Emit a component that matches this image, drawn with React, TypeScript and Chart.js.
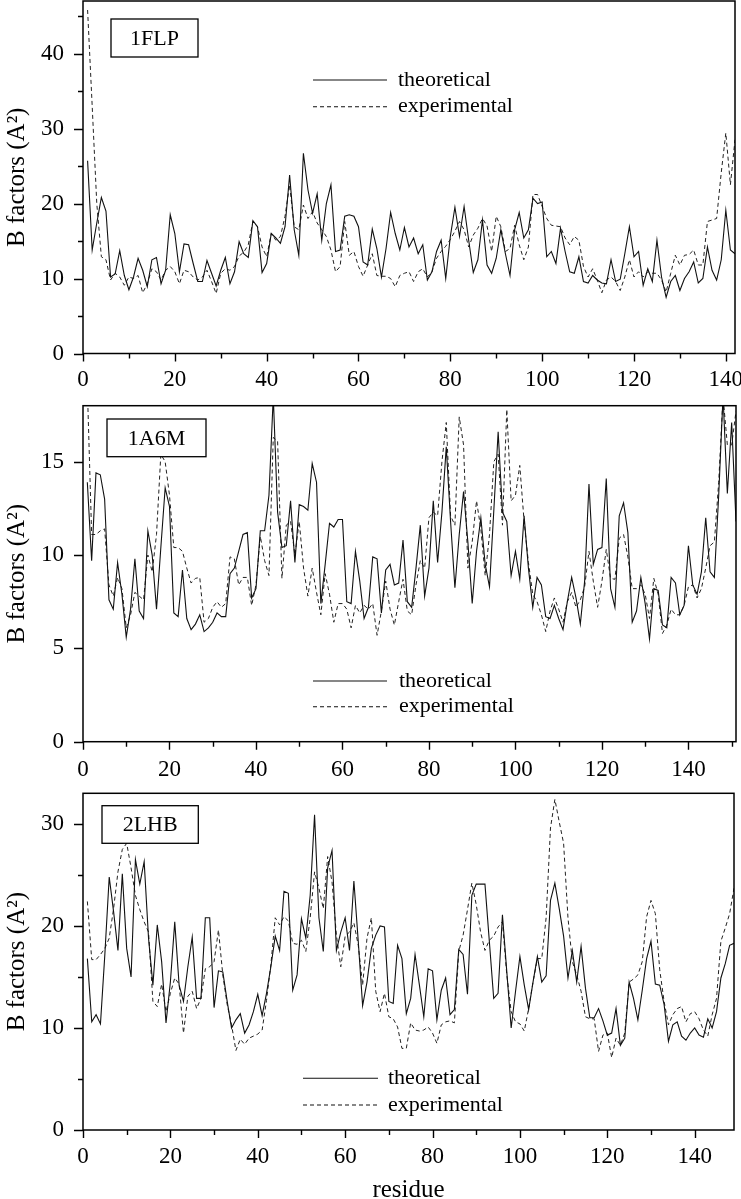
import React, { useEffect, useRef } from 'react';
import { Chart, registerables } from 'chart.js';

Chart.register(...registerables);

const FONT = '"Liberation Serif", "Times New Roman", Times, serif';

// ---------- 1FLP ----------
const flpTheoretical = [
  25.7, 13.8, 17.4, 20.8, 19, 10.2, 10.6, 13.7, 10.4, 8.5,
  10.2, 12.7, 11.1, 8.9, 12.5, 12.8, 9.3, 11.1, 18.5, 16,
  10.9, 14.6, 14.5, 12, 9.6, 9.6, 12.4, 10.7, 9, 11.1,
  12.8, 9.3, 10.9, 14.9, 13.3, 12.8, 17.7, 16.9, 10.8, 12,
  16, 15.4, 14.7, 16.9, 23.8, 16.5, 13.1, 26.7, 21.8, 18.7,
  21.3, 15.1, 20, 22.5, 13.6, 13.8, 18.3, 18.5, 18.3, 16.9,
  12.2, 11.8, 16.6, 14, 10.2, 14, 18.8, 16, 13.8, 16.8,
  14.2, 15.4, 13.3, 14.5, 9.8, 10.9, 13.6, 15.1, 10, 15.6,
  19.5, 15.6, 19.6, 15.1, 10.8, 12.5, 17.8, 11.8, 10.7, 12.7,
  16.5, 13.3, 10.4, 16.5, 18.8, 15.4, 16.5, 20.7, 20, 20.2,
  12.9, 13.6, 12, 16.7, 13.6, 10.9, 10.7, 12.9, 9.6, 9.4,
  10.4, 9.8, 9.4, 9.3, 12.5, 9.6, 9.9, 13.3, 16.9, 12.9,
  13.6, 9.1, 11.3, 9.6, 15.1, 10.2, 7.5, 9.6, 10.4, 8.4,
  10, 10.9, 12.2, 9.4, 10, 14.2, 11.1, 9.8, 12.5, 19.1,
  13.8, 13.3,
];
const flpExperimental = [
  45.8, 33, 20, 12.9, 12.5, 9.8, 10.7, 10.2, 9.1, 10.2,
  10, 10.4, 8.1, 9.3, 11.3, 10.9, 9.8, 11.1, 11.6, 10.9,
  9.3, 11.1, 10.9, 10.2, 9.8, 10.2, 11.1, 9.6, 8, 10.7,
  11.3, 11.1, 11.6, 13, 13.5, 14.5, 17.6, 16.9, 14.2, 12.9,
  16, 15.1, 15.6, 18.3, 22.5, 16.9, 16.5, 19.8, 18, 18.9,
  17.4, 16.5, 15.6, 13.8, 10.9, 11.6, 17.6, 13.1, 13.6, 11.6,
  10.3, 11.8, 13.3, 10.4, 10.3, 10.3, 10, 8.9, 10.4, 10.7,
  10.9, 9.6, 10.9, 11.3, 10.2, 10.9, 12.7, 13.6, 14.3, 15.2,
  16.3, 17.6, 16.5, 14.2, 15.8, 16.7, 18, 17, 13.6, 18.3,
  16.9, 13.6, 14, 17.1, 14.5, 12.5, 14.2, 21.2, 21.2, 19.6,
  18, 17.1, 17, 16.9, 15.4, 14.5, 15.6, 15.1, 11.6, 10.2,
  11.3, 9.8, 8.1, 9.8, 10.2, 9.6, 8.4, 10.2, 12.5, 10.2,
  10.9, 10.2, 10.9, 10.7, 10.7, 9.8, 8.2, 10.7, 13.1, 11.8,
  13.1, 13.2, 13.8, 11.8, 11.8, 17.6, 17.8, 18, 24.1, 29.4,
  22.5, 28.5,
];

// ---------- 1A6M ----------
const a6mTheoretical = [
  13.9, 9.7, 14.4, 14.3, 13, 7.6, 7.1, 9.6, 7.9, 5.6,
  7.1, 9.8, 7, 6.6, 11.3, 10, 7.1, 10.4, 13.6, 12.6,
  6.9, 6.7, 9.2, 6.6, 6, 6.3, 6.8, 5.9, 6.1, 6.4,
  6.9, 6.7, 6.7, 9, 9.3, 10.2, 11.1, 11.2, 7.7, 8.2,
  11.3, 11.3, 13.2, 18.5, 12.3, 10.4, 10.5, 12.9, 9.6, 12.7,
  12.6, 12.4, 14.9, 13.9, 7.4, 9.5, 11.7, 11.5, 11.9, 11.9,
  7.5, 7.4, 10.2, 8.6, 6.6, 7.2, 9.9, 9.8, 6.9, 9.2,
  9.5, 8.4, 8.5, 10.8, 7.5, 7.2, 9.3, 11.6, 7.8, 9.3,
  12.9, 9.6, 12.3, 15.8, 11.8, 8.25, 11.1, 13.4, 10.7, 7.4,
  10.2, 12, 9.5, 8.3, 12.4, 16.6, 12.3, 11.8, 8.9, 10.2,
  8.7, 12.1, 9.3, 7.2, 8.8, 8.4, 6.7, 6.6, 7.3, 6.6,
  6, 7.5, 8.8, 7.7, 6.3, 8.6, 13.8, 9.5, 10.3, 10.4,
  14.1, 8.2, 7.2, 12.1, 12.8, 11.2, 6.4, 7, 8.8, 7.4,
  5.5, 8.2, 8.1, 6.25, 6.1, 8.8, 8.5, 6.8, 7.3, 10.5,
  8.4, 7.9, 9.1, 12, 9.1, 8.8, 13.2, 18.5, 13.3, 17.1,
  11.8,
];
const a6mExperimental = [
  19, 11.1, 11.1, 11.3, 11.4, 8.4, 7.8, 8.8, 8.2, 6.1,
  6.8, 8, 7.8, 7.6, 10, 9.1, 11.1, 15.4, 15, 13.2,
  10.4, 10.4, 10.2, 9.3, 8.5, 8.75, 8.8, 6.4, 6.6, 7.2,
  7.5, 7.2, 7.4, 9.9, 9.8, 8.4, 8.8, 8.8, 7.3, 8.4,
  11, 9.7, 8.9, 16.3, 16.1, 8.75, 11.6, 11.8, 10, 11.8,
  9.3, 7.8, 9.3, 8, 6.8, 9, 7.9, 6.4, 7.4, 7.4,
  7.1, 6.1, 7.3, 6.9, 7.3, 7.1, 7.4, 5.7, 7, 8.6,
  7.1, 6.25, 7.5, 8.7, 7, 6.8, 8.4, 9.7, 9.3, 12,
  12.3, 12.1, 15, 17.1, 12.1, 11.6, 17.4, 15.9, 9.3, 10.7,
  12.9, 11.4, 8.9, 11.1, 15, 15.4, 11.6, 17.8, 12.9, 13.2,
  14.8, 11.8, 9.6, 7.9, 7.5, 6.8, 5.9, 7, 7.7, 7.1,
  6.4, 7.5, 8, 7.2, 7.6, 8.3, 10.2, 8.6, 7.2, 8.6,
  10.3, 8.75, 8.7, 10.9, 11.1, 9.9, 8.2, 8.2, 8.4, 7.9,
  6.6, 8.75, 7.9, 5.8, 6.25, 7.1, 6.8, 6.8, 7.3, 8.3,
  8.4, 7.7, 8.2, 9.3, 10.5, 10.7, 13.9, 18.5, 15.9, 15.9,
  17.7,
];

// ---------- 2LHB ----------
const lhbTheoretical = [
  16.8, 10.6, 11.3, 10.4, 17.2, 24.8, 21.4, 17.6, 25.1, 17.8,
  15, 26.5, 24.1, 26.3, 18.8, 14.2, 20.1, 16.5, 10.5, 14.5,
  20.4, 14.2, 12.6, 16, 18.9, 12.9, 12.9, 20.8, 20.8, 12,
  15.6, 15.5, 12.6, 10, 10.8, 11.4, 9.5, 10.3, 11.6, 13.3,
  11.2, 13.4, 16, 19, 17.6, 23.4, 23.2, 13.7, 15.2, 20.7,
  18.8, 23, 30.9, 20.8, 17.5, 25.7, 27.4, 17.6, 19.4, 20.8,
  17.6, 24.4, 18.5, 12.2, 14.5, 17.8, 19.1, 20, 19.9, 12.6,
  12.4, 18.1, 16.8, 11.4, 12.9, 17.2, 14.2, 11.1, 15.8, 15.6,
  10.8, 13.7, 14.9, 11.3, 11.8, 17.7, 17.2, 13.3, 23, 24.1,
  24.1, 24.1, 18.5, 12.9, 13.4, 21.1, 15.5, 10, 13.6, 17,
  14.2, 11.8, 14.5, 17, 14.5, 15.1, 22.5, 24.2, 21.7, 19,
  14.9, 17.6, 14.5, 18, 13.9, 11, 11, 11.9, 10.7, 9.3,
  9.5, 11.9, 8.3, 9, 14.5, 12.9, 10.8, 13.7, 16.8, 18.5,
  14.3, 14.2, 12.3, 8.7, 10.3, 10.6, 9.2, 8.8, 9.5, 10,
  9.3, 9.1, 10.9, 10, 11.6, 14.9, 16.3, 18.1, 18.3,
];
const lhbExperimental = [
  22.4, 16.7, 16.7, 17.2, 17.8, 18.8, 21.7, 25.3, 27.5, 28.1,
  25.7, 23, 21.6, 20.4, 19.4, 12.6, 12.1, 14.3, 11.6, 13.4,
  14.9, 14.3, 9.5, 13.1, 13.6, 11.9, 12.9, 15.8, 16, 16.5,
  19.6, 15.2, 12.3, 10.3, 7.8, 8.9, 8.4, 9, 9.2, 9.4,
  9.8, 12.7, 16.2, 20.8, 20.1, 20.9, 20.5, 18.3, 18.2, 18.6,
  17.5, 20.8, 25.3, 23.7, 21.7, 26.8, 24.3, 19.1, 16, 19,
  19.4, 20.3, 18.1, 14.2, 18.8, 20.8, 13.6, 11.6, 13.4, 11.1,
  10.9, 10.1, 8, 8, 10.5, 9.8, 9.7, 9.8, 10.1, 9.5,
  8.5, 10.3, 10.6, 10.7, 10.5, 17.5, 19.1, 21.6, 24.2, 22.1,
  19.4, 17.6, 18.6, 19, 19.9, 20.4, 15.2, 11.6, 10.6, 10.4,
  9.7, 11.9, 14.5, 16.8, 16.8, 20.8, 29.6, 32.4, 30.2, 28.1,
  20.8, 16.5, 15.2, 13.6, 11.1, 10.9, 10.9, 7.7, 9.3, 9.5,
  7.1, 9, 8.3, 9.5, 14.5, 14.8, 15.2, 16.5, 20.9, 22.5,
  21.2, 15.7, 12.6, 10.3, 11.3, 11.9, 12.1, 10.6, 11.4, 11.6,
  10.9, 9.8, 9.2, 11.3, 12.9, 18.5, 19.8, 21.2, 23.7,
];

const seriesLabels = ['theoretical', 'experimental'];
const yTitle = 'B factors (A\u00B2)';
const xTitle = 'residue';

type PanelCfg = {
  name: string;
  top: number;
  height: number;
  areaTop: number;
  areaBottom: number;
  areaRight: number;
  xMax: number;
  yMax: number;
  yStep: number;
  yMinor: number;
  theo: number[];
  exp: number[];
  legend: { x1: number; x2: number; y1: number; y2: number; tx: number };
  box: { x1: number; y1: number; x2: number; y2: number };
  showXTitle: boolean;
  xLabelPad: number;
};

const panels: PanelCfg[] = [
  {
    name: '1FLP', top: 0, height: 395, areaTop: 1, areaBottom: 353.5, areaRight: 735,
    xMax: 142, yMax: 47, yStep: 10, yMinor: 5,
    theo: flpTheoretical, exp: flpExperimental,
    legend: { x1: 313, x2: 387, y1: 80, y2: 106.7, tx: 398 },
    box: { x1: 111, y1: 19, x2: 198, y2: 57 },
    showXTitle: false, xLabelPad: 13,
  },
  {
    name: '1A6M', top: 395, height: 390, areaTop: 10.7, areaBottom: 346.7, areaRight: 736,
    xMax: 151, yMax: 18, yStep: 5, yMinor: 5,
    theo: a6mTheoretical, exp: a6mExperimental,
    legend: { x1: 313, x2: 387, y1: 286, y2: 311.7, tx: 399 },
    box: { x1: 107, y1: 24, x2: 206, y2: 61.7 },
    showXTitle: false, xLabelPad: 14,
  },
  {
    name: '2LHB', top: 785, height: 414, areaTop: 8.3, areaBottom: 345, areaRight: 734,
    xMax: 149, yMax: 33, yStep: 10, yMinor: 5,
    theo: lhbTheoretical, exp: lhbExperimental,
    legend: { x1: 303, x2: 378, y1: 293.3, y2: 320, tx: 388 },
    box: { x1: 102, y1: 20.7, x2: 198.3, y2: 58.3 },
    showXTitle: true, xLabelPad: 13.5,
  },
];

const WIDTH = 741;
const AXIS_LEFT = 83;

function toPoints(values: number[]) {
  return values.map((v, i) => ({ x: i + 1, y: v }));
}

function Panel({ cfg }: { cfg: PanelCfg }) {
  const ref = useRef<HTMLCanvasElement | null>(null);

  useEffect(() => {
    if (!ref.current) return;

    const decor = {
      id: 'decor' + cfg.name,
      afterDraw(chart: any) {
        const ctx = chart.ctx as CanvasRenderingContext2D;
        const a = chart.chartArea;
        const xs = chart.scales.x;
        const ys = chart.scales.y;
        ctx.save();
        ctx.strokeStyle = '#000';
        ctx.lineWidth = 1.5;
        ctx.strokeRect(a.left, a.top, a.right - a.left, a.bottom - a.top);

        ctx.lineWidth = 1.4;
        ctx.beginPath();
        for (let v = 0; v <= cfg.xMax + 1e-9; v += 10) {
          const px = Math.round(xs.getPixelForValue(v)) + 0.5;
          const len = v % 20 === 0 ? 8 : 5;
          ctx.moveTo(px, a.bottom);
          ctx.lineTo(px, a.bottom + len);
        }
        for (let v = 0; v <= cfg.yMax + 1e-9; v += cfg.yMinor) {
          const py = Math.round(ys.getPixelForValue(v)) + 0.5;
          const r = v / cfg.yStep;
          const major = Math.abs(r - Math.round(r)) < 1e-6;
          const len = major ? 9 : 5;
          ctx.moveTo(a.left, py);
          ctx.lineTo(a.left - len, py);
        }
        ctx.stroke();

        // legend
        const L = cfg.legend;
        const ds = chart.data.datasets;
        ctx.lineWidth = 1.1;
        ctx.strokeStyle = '#111';
        ctx.setLineDash([]);
        ctx.beginPath();
        ctx.moveTo(L.x1, L.y1);
        ctx.lineTo(L.x2, L.y1);
        ctx.stroke();
        ctx.setLineDash(ds[1].borderDash || [4, 3]);
        ctx.beginPath();
        ctx.moveTo(L.x1, L.y2);
        ctx.lineTo(L.x2, L.y2);
        ctx.stroke();
        ctx.setLineDash([]);
        ctx.fillStyle = '#000';
        ctx.font = `22px ${FONT}`;
        ctx.textAlign = 'left';
        ctx.textBaseline = 'middle';
        ctx.fillText(ds[0].label, L.tx, L.y1);
        ctx.fillText(ds[1].label, L.tx, L.y2);

        // name box
        const B = cfg.box;
        ctx.fillStyle = '#fff';
        ctx.fillRect(B.x1, B.y1, B.x2 - B.x1, B.y2 - B.y1);
        ctx.lineWidth = 1.3;
        ctx.strokeStyle = '#000';
        ctx.strokeRect(B.x1, B.y1, B.x2 - B.x1, B.y2 - B.y1);
        ctx.fillStyle = '#000';
        ctx.textAlign = 'center';
        ctx.textBaseline = 'middle';
        ctx.fillText(cfg.name, (B.x1 + B.x2) / 2, (B.y1 + B.y2) / 2 + 1);
        ctx.restore();
      },
    };

    const xAxisHeight = cfg.height - cfg.areaBottom;

    const chart = new Chart(ref.current, {
      type: 'line',
      data: {
        datasets: [
          {
            label: seriesLabels[0],
            data: toPoints(cfg.theo),
            borderColor: '#111',
            borderWidth: 1.1,
            pointRadius: 0,
            tension: 0,
            fill: false,
          },
          {
            label: seriesLabels[1],
            data: toPoints(cfg.exp),
            borderColor: '#222',
            borderWidth: 1,
            borderDash: [4, 3],
            pointRadius: 0,
            tension: 0,
            fill: false,
          },
        ],
      },
      options: {
        responsive: false,
        animation: false,
        devicePixelRatio: 1,
        layout: {
          padding: { top: cfg.areaTop, right: WIDTH - cfg.areaRight, left: 0, bottom: 0 },
        },
        plugins: {
          legend: { display: false },
          tooltip: { enabled: false },
        },
        scales: {
          x: {
            type: 'linear',
            min: 0,
            max: cfg.xMax,
            grid: { display: false, drawTicks: false },
            border: { display: false },
            ticks: {
              stepSize: 20,
              includeBounds: false,
              padding: cfg.xLabelPad,
              color: '#000',
              font: { family: FONT, size: 23 },
              maxRotation: 0,
              autoSkip: false,
            },
            title: {
              display: cfg.showXTitle,
              text: xTitle,
              color: '#000',
              font: { family: FONT, size: 25 },
              padding: { top: 0, bottom: -6 },
            },
            afterFit: (s: any) => {
              s.height = xAxisHeight;
              s.paddingLeft = 0;
              s.paddingRight = 0;
            },
          },
          y: {
            type: 'linear',
            min: 0,
            max: cfg.yMax,
            grid: { display: false, drawTicks: false },
            border: { display: false },
            ticks: {
              stepSize: cfg.yStep,
              includeBounds: false,
              padding: 19,
              color: '#000',
              font: { family: FONT, size: 23 },
            },
            title: {
              display: true,
              text: yTitle,
              color: '#000',
              font: { family: FONT, size: 25 },
              padding: { top: 2, bottom: 0 },
            },
            afterFit: (s: any) => {
              s.width = AXIS_LEFT;
              s.paddingTop = 0;
              s.paddingBottom = 0;
            },
          },
        },
      },
      plugins: [decor],
    } as any);

    return () => chart.destroy();
  }, [cfg]);

  return (
    <canvas
      ref={ref}
      width={WIDTH}
      height={cfg.height}
      style={{ position: 'absolute', left: 0, top: cfg.top, width: WIDTH, height: cfg.height, display: 'block' }}
    />
  );
}

export default function App() {
  return (
    <div style={{ position: 'absolute', left: 0, top: 0, width: WIDTH, height: 1199, background: '#fff', overflow: 'hidden' }}>
      {panels.map((p) => (
        <Panel key={p.name} cfg={p} />
      ))}
    </div>
  );
}
